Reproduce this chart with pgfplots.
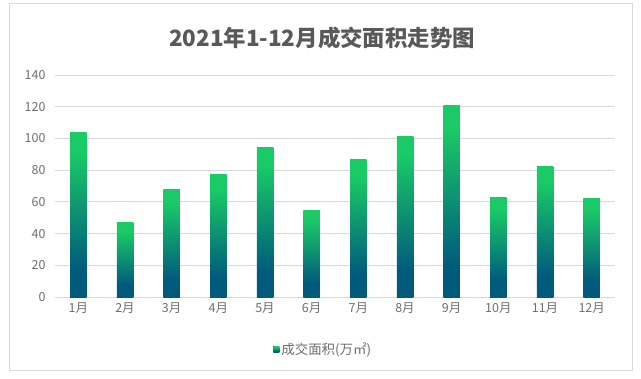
\documentclass[border=0pt]{standalone}
\usepackage{pgfplots}
\pgfplotsset{compat=1.18}
\usepackage{fontspec}
\setmainfont{Noto Sans CJK SC}
\definecolor{cgreen}{HTML}{19CA66}
\definecolor{cdark}{HTML}{005A7C}
\definecolor{gridc}{HTML}{D9D9D9}
\definecolor{txt}{HTML}{6E6E6E}
\definecolor{ttl}{HTML}{595959}
\pgfdeclareverticalshading{bargrad}{100bp}{color(0bp)=(cdark); color(33bp)=(cdark); color(69bp)=(cgreen); color(100bp)=(cgreen)}
\begin{document}
\begin{tikzpicture}[x=1bp,y=1bp]
\useasboundingbox (0,0) rectangle (641,378);
\draw[gridc, line width=1bp] (9,8) rectangle (632,374);
\node[font=\fontsize{22.5}{24}\selectfont\bfseries, text=ttl] at (322,340) {2021年1-12月成交面积走势图};
\begin{axis}[
  at={(55bp,81bp)}, anchor=south west,
  scale only axis, width=560bp, height=222bp,
  xmin=-0.5, xmax=11.5, ymin=0, ymax=140,
  ytick={0,20,...,140},
  xtick={0,...,11},
  xticklabels={1月,2月,3月,4月,5月,6月,7月,8月,9月,10月,11月,12月},
  ymajorgrids, grid style={gridc, line width=0.9bp},
  axis line style={draw=none},
  major tick style={draw=none},
  /pgf/number format/assume math mode=true,
  ticklabel style={font=\fontsize{12.5}{14}\selectfont, text=txt},
  yticklabel style={xshift=-6bp},
  xticklabel style={yshift=-2bp},
  legend style={at={(0.479,-0.236)}, anchor=center, draw=none, fill=none,
    font=\fontsize{13.5}{15}\selectfont, text=txt, inner sep=0pt,
    /tikz/every even column/.append style={column sep=2bp}},
  legend image code/.code={\fill[shading=bargrad] (0bp,-3bp) rectangle (6bp,3bp);},
  every axis plot/.append style={ybar, bar width=16.5bp, bar shift=0pt, draw=none, mark=none, shading=bargrad},
]
\addplot[mark=none] coordinates {(0,103.6)};
\addlegendentry{成交面积(万㎡)}
\addplot[forget plot] coordinates {(1,46.7)};
\addplot[forget plot] coordinates {(2,67.7)};
\addplot[forget plot] coordinates {(3,77.1)};
\addplot[forget plot] coordinates {(4,94.3)};
\addplot[forget plot] coordinates {(5,54.8)};
\addplot[forget plot] coordinates {(6,86.4)};
\addplot[forget plot] coordinates {(7,101.5)};
\addplot[forget plot] coordinates {(8,120.8)};
\addplot[forget plot] coordinates {(9,62.8)};
\addplot[forget plot] coordinates {(10,82.4)};
\addplot[forget plot] coordinates {(11,62.2)};
\end{axis}
\end{tikzpicture}
\end{document}
